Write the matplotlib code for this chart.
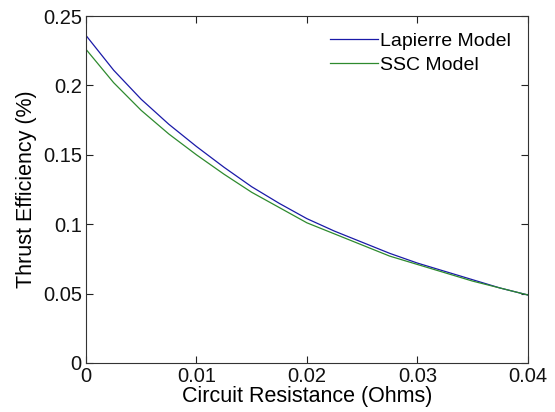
import numpy as np
import matplotlib
matplotlib.use("Agg")
import matplotlib.pyplot as plt

plt.rcParams['font.family'] = ['Liberation Sans', 'DejaVu Sans']

# circuit resistance (Ohms)
resistance = [0.0, 0.0025, 0.005, 0.0075, 0.01, 0.0125, 0.015, 0.0175, 0.02,
              0.0225, 0.025, 0.0275, 0.03, 0.0325, 0.035, 0.0375, 0.04]
# thrust efficiency
lapierre = [0.236, 0.211, 0.190, 0.172, 0.156, 0.141, 0.127, 0.115, 0.104,
            0.095, 0.087, 0.079, 0.072, 0.066, 0.060, 0.054, 0.049]
ssc = [0.226, 0.202, 0.182, 0.165, 0.150, 0.136, 0.123, 0.112, 0.101,
       0.093, 0.085, 0.077, 0.071, 0.065, 0.059, 0.054, 0.049]

xticks = [0, 0.01, 0.02, 0.03, 0.04]
xticklabels = ['0', '0.01', '0.02', '0.03', '0.04']
yticks = [0, 0.05, 0.1, 0.15, 0.2, 0.25]
yticklabels = ['0', '0.05', '0.1', '0.15', '0.2', '0.25']

fig = plt.figure(figsize=(5.55, 4.12), dpi=100)
ax = fig.add_axes([0.155, 0.119, 0.796, 0.842])

ax.plot(resistance, lapierre, color='#1a1aa8', lw=0.9, label='Lapierre Model')
ax.plot(resistance, ssc, color='#2e8a2e', lw=0.9, label='SSC Model')

ax.set_xlim(0, 0.04)
ax.set_ylim(0, 0.25)
ax.set_xticks(xticks)
ax.set_xticklabels(xticklabels)
ax.set_yticks(yticks)
ax.set_yticklabels(yticklabels)
ax.tick_params(direction='in', length=5, width=0.8, top=True, right=True,
               labelsize=14.5, colors='#222222', labelcolor='#111111', pad=3)
for s in ax.spines.values():
  s.set_color('#333333')
  s.set_linewidth(0.8)

ax.set_xlabel('Circuit Resistance (Ohms)', fontsize=15.5, labelpad=0)
ax.set_ylabel('Thrust Efficiency (%)', fontsize=15.5, labelpad=4)

ax.legend(loc='upper right', frameon=False, fontsize=14, handlelength=2.5,
          handletextpad=0.1, labelspacing=0.3, borderaxespad=0.45)

fig.savefig('out.png', dpi=100)
